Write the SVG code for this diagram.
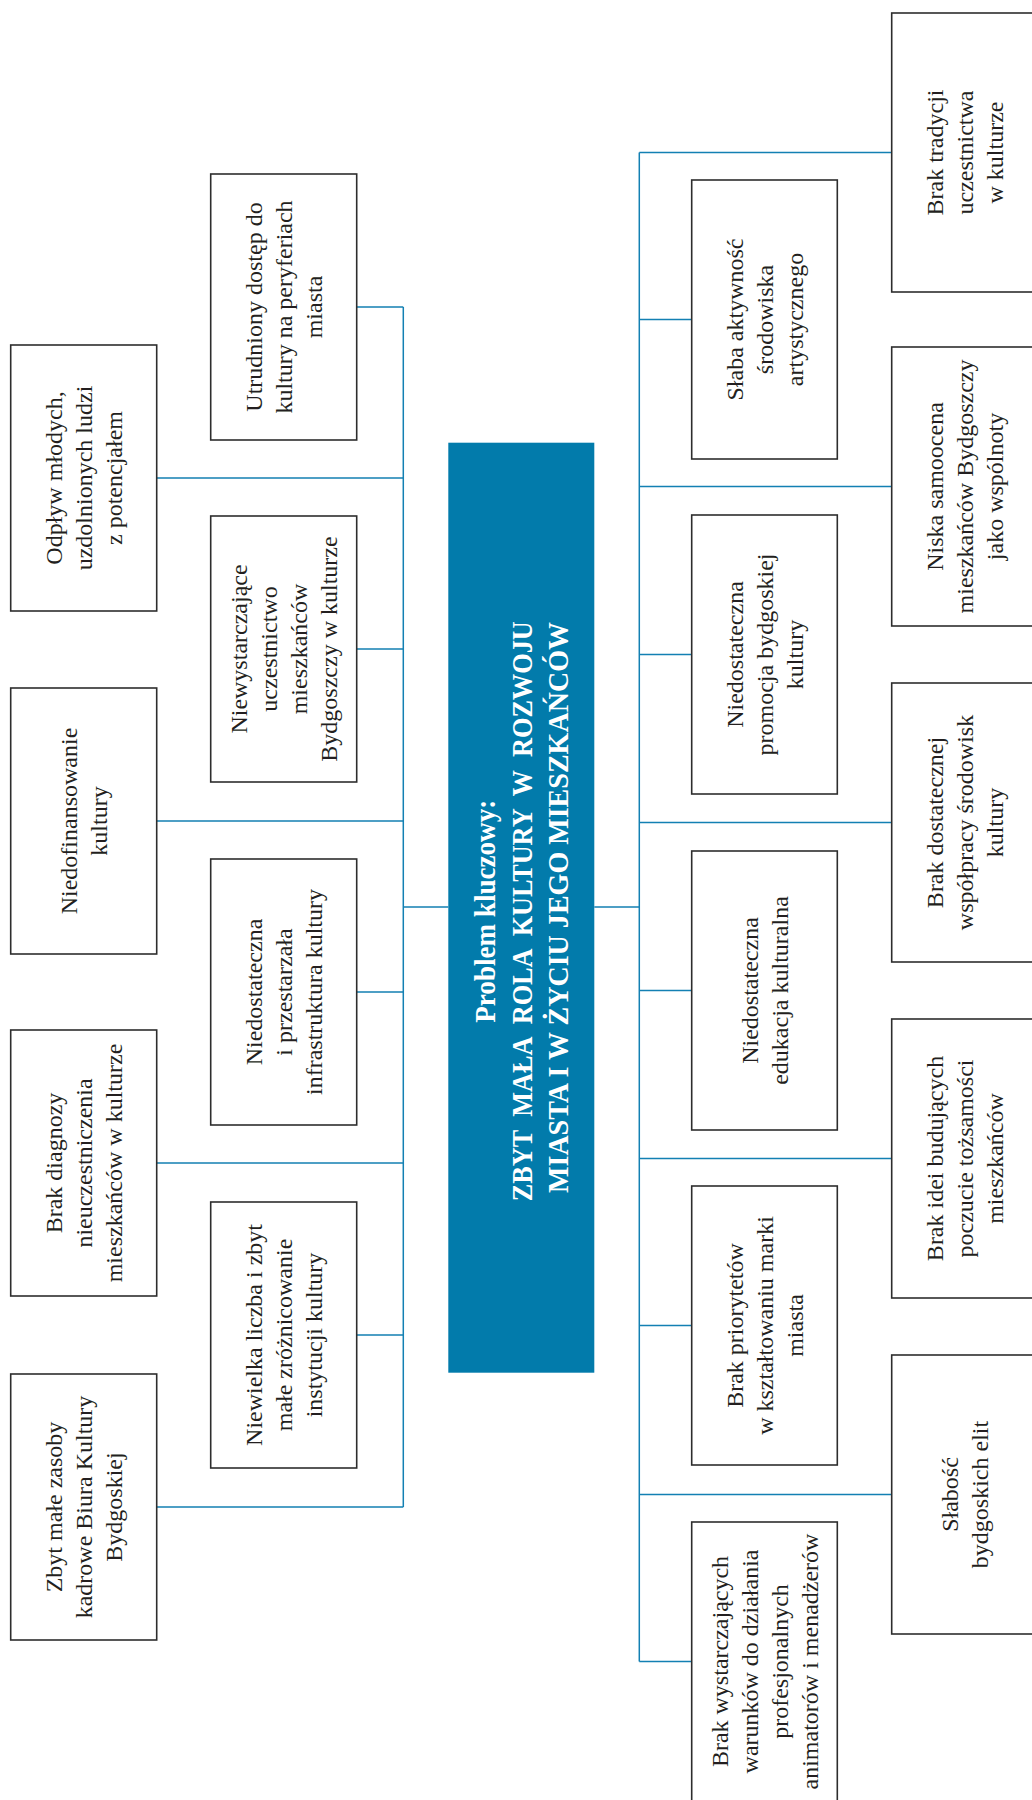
<svg xmlns="http://www.w3.org/2000/svg" width="1032" height="1800" viewBox="0 0 1032 1800">
<style>
.box{fill:#fff;stroke:#2d2d2d;stroke-width:1.6}
.t{font-family:"Liberation Serif","Times New Roman",serif;font-size:24px;fill:#231f20;text-anchor:middle}
.con{fill:none;stroke:#1380b3;stroke-width:1.5}
.core{fill:#027bab}
.ct{font-family:"Liberation Serif","Times New Roman",serif;font-size:30px;font-weight:bold;fill:#fff;text-anchor:middle}
</style>
<rect width="1032" height="1800" fill="#fff"/>
<g id="connectors" class="con">
<path d="M403.3 307 V1507 M156.7 478 H403.3 M156.7 821 H403.3 M156.7 1163 H403.3 M156.7 1507 H403.3 M356.7 307 H403.3 M356.7 649 H403.3 M356.7 992 H403.3 M356.7 1335 H403.3 M403.3 907 H448.3"/>
<path d="M639.3 152.5 V1661.5 M594.3 907 H639.3 M639.3 152.5 H891.7 M639.3 486.5 H891.7 M639.3 822.5 H891.7 M639.3 1158.5 H891.7 M639.3 1494.5 H891.7 M639.3 319.5 H691.7 M639.3 654.5 H691.7 M639.3 990.5 H691.7 M639.3 1325.5 H691.7 M639.3 1661.5 H691.7"/>
</g>
<g id="core">
<rect class="core" x="448.3" y="442.7" width="146" height="930"/>
<text class="ct" transform="translate(521.3 907.5) rotate(-90)">
<tspan x="0" y="-26" textLength="223" lengthAdjust="spacingAndGlyphs">Problem kluczowy:</tspan>
<tspan x="0" y="10.7" textLength="580" lengthAdjust="spacingAndGlyphs" word-spacing="8">ZBYT MAŁA ROLA KULTURY W ROZWOJU</tspan>
<tspan x="0" y="47" textLength="571" lengthAdjust="spacingAndGlyphs">MIASTA I W ŻYCIU JEGO MIESZKAŃCÓW</tspan>
</text>
</g>
<g id="l-odplyw"><rect class="box" x="10.7" y="345" width="146" height="266"/>
<text class="t" transform="translate(83.7 478) rotate(-90)"><tspan x="0" y="-22">Odpływ młodych,</tspan><tspan x="0" y="8">uzdolnionych ludzi</tspan><tspan x="0" y="38">z potencjałem</tspan></text></g>
<g id="l-niedofinansowanie"><rect class="box" x="10.7" y="688" width="146" height="266"/>
<text class="t" transform="translate(83.7 821) rotate(-90)"><tspan x="0" y="-7">Niedofinansowanie</tspan><tspan x="0" y="23">kultury</tspan></text></g>
<g id="l-diagnoza"><rect class="box" x="10.7" y="1030" width="146" height="266"/>
<text class="t" transform="translate(83.7 1163) rotate(-90)"><tspan x="0" y="-22">Brak diagnozy</tspan><tspan x="0" y="8">nieuczestniczenia</tspan><tspan x="0" y="38">mieszkańców w kulturze</tspan></text></g>
<g id="l-zasoby"><rect class="box" x="10.7" y="1374" width="146" height="266"/>
<text class="t" transform="translate(83.7 1507) rotate(-90)"><tspan x="0" y="-22">Zbyt małe zasoby</tspan><tspan x="0" y="8">kadrowe Biura Kultury</tspan><tspan x="0" y="38">Bydgoskiej</tspan></text></g>
<g id="l-dostep"><rect class="box" x="210.7" y="174" width="146" height="266"/>
<text class="t" transform="translate(283.7 307) rotate(-90)"><tspan x="0" y="-22">Utrudniony dostęp do</tspan><tspan x="0" y="8">kultury na peryferiach</tspan><tspan x="0" y="38">miasta</tspan></text></g>
<g id="l-uczestnictwo"><rect class="box" x="210.7" y="516" width="146" height="266"/>
<text class="t" transform="translate(283.7 649) rotate(-90)"><tspan x="0" y="-37">Niewystarczające</tspan><tspan x="0" y="-7">uczestnictwo</tspan><tspan x="0" y="23">mieszkańców</tspan><tspan x="0" y="53">Bydgoszczy w kulturze</tspan></text></g>
<g id="l-infrastruktura"><rect class="box" x="210.7" y="859" width="146" height="266"/>
<text class="t" transform="translate(283.7 992) rotate(-90)"><tspan x="0" y="-22">Niedostateczna</tspan><tspan x="0" y="8">i przestarzała</tspan><tspan x="0" y="38">infrastruktura kultury</tspan></text></g>
<g id="l-instytucje"><rect class="box" x="210.7" y="1202" width="146" height="266"/>
<text class="t" transform="translate(283.7 1335) rotate(-90)"><tspan x="0" y="-22">Niewielka liczba i zbyt</tspan><tspan x="0" y="8">małe zróżnicowanie</tspan><tspan x="0" y="38">instytucji kultury</tspan></text></g>
<g id="r-aktywnosc"><rect class="box" x="691.7" y="180" width="145.6" height="279"/>
<text class="t" transform="translate(764.5 319.5) rotate(-90)"><tspan x="0" y="-22">Słaba aktywność</tspan><tspan x="0" y="8">środowiska</tspan><tspan x="0" y="38">artystycznego</tspan></text></g>
<g id="r-promocja"><rect class="box" x="691.7" y="515" width="145.6" height="279"/>
<text class="t" transform="translate(764.5 654.5) rotate(-90)"><tspan x="0" y="-22">Niedostateczna</tspan><tspan x="0" y="8">promocja bydgoskiej</tspan><tspan x="0" y="38">kultury</tspan></text></g>
<g id="r-edukacja"><rect class="box" x="691.7" y="851" width="145.6" height="279"/>
<text class="t" transform="translate(764.5 990.5) rotate(-90)"><tspan x="0" y="-7">Niedostateczna</tspan><tspan x="0" y="23">edukacja kulturalna</tspan></text></g>
<g id="r-priorytety"><rect class="box" x="691.7" y="1186" width="145.6" height="279"/>
<text class="t" transform="translate(764.5 1325.5) rotate(-90)"><tspan x="0" y="-22">Brak priorytetów</tspan><tspan x="0" y="8">w kształtowaniu marki</tspan><tspan x="0" y="38">miasta</tspan></text></g>
<g id="r-warunki"><rect class="box" x="691.7" y="1522" width="145.6" height="279"/>
<text class="t" transform="translate(764.5 1661.5) rotate(-90)"><tspan x="0" y="-37">Brak wystarczających</tspan><tspan x="0" y="-7">warunków do działania</tspan><tspan x="0" y="23">profesjonalnych</tspan><tspan x="0" y="53">animatorów i menadżerów</tspan></text></g>
<g id="r-tradycja"><rect class="box" x="891.7" y="13" width="146" height="279"/>
<text class="t" transform="translate(964.7 152.5) rotate(-90)"><tspan x="0" y="-22">Brak tradycji</tspan><tspan x="0" y="8">uczestnictwa</tspan><tspan x="0" y="38">w kulturze</tspan></text></g>
<g id="r-samoocena"><rect class="box" x="891.7" y="347" width="146" height="279"/>
<text class="t" transform="translate(964.7 486.5) rotate(-90)"><tspan x="0" y="-22">Niska samoocena</tspan><tspan x="0" y="8">mieszkańców Bydgoszczy</tspan><tspan x="0" y="38">jako wspólnoty</tspan></text></g>
<g id="r-wspolpraca"><rect class="box" x="891.7" y="683" width="146" height="279"/>
<text class="t" transform="translate(964.7 822.5) rotate(-90)"><tspan x="0" y="-22">Brak dostatecznej</tspan><tspan x="0" y="8">współpracy środowisk</tspan><tspan x="0" y="38">kultury</tspan></text></g>
<g id="r-tozsamosc"><rect class="box" x="891.7" y="1019" width="146" height="279"/>
<text class="t" transform="translate(964.7 1158.5) rotate(-90)"><tspan x="0" y="-22">Brak idei budujących</tspan><tspan x="0" y="8">poczucie tożsamości</tspan><tspan x="0" y="38">mieszkańców</tspan></text></g>
<g id="r-elity"><rect class="box" x="891.7" y="1355" width="146" height="279"/>
<text class="t" transform="translate(964.7 1494.5) rotate(-90)"><tspan x="0" y="-7">Słabość</tspan><tspan x="0" y="23">bydgoskich elit</tspan></text></g>
</svg>
